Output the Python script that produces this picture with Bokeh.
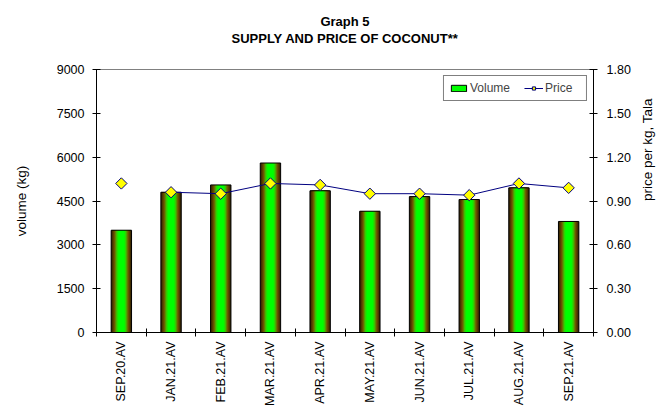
import math
import numpy as np
from bokeh.plotting import figure
from bokeh.models import (Range1d, LinearAxis, FixedTicker, NumeralTickFormatter,
                          Title, Legend, LegendItem)
from bokeh.embed import file_html
from bokeh.resources import INLINE

categories = ["SEP.20.AV", "JAN.21.AV", "FEB.21.AV", "MAR.21.AV", "APR.21.AV",
              "MAY.21.AV", "JUN.21.AV", "JUL.21.AV", "AUG.21.AV", "SEP.21.AV"]
volume = [3500, 4800, 5050, 5800, 4850, 4150, 4650, 4550, 4950, 3800]
price = [1.02, 0.96, 0.95, 1.02, 1.01, 0.95, 0.95, 0.94, 1.02, 0.99]
left_ticks = [0, 1500, 3000, 4500, 6000, 7500, 9000]
right_ticks = [0.0, 0.3, 0.6, 0.9, 1.2, 1.5, 1.8]

FONT = "Liberation Sans"
n = len(categories)
xc = [float(v) for v in np.arange(n) + 0.5]

p = figure(width=665, height=408, output_backend="svg", toolbar_location=None,
           x_range=Range1d(0, n), y_range=Range1d(0, 9000),
           min_border_left=96, min_border_right=68, min_border_bottom=75,
           min_border_top=69, background_fill_color="white", border_fill_color="white")
p.extra_y_ranges = {"price": Range1d(0, 1.8)}
p.xgrid.visible = False
p.ygrid.visible = False
p.outline_line_color = "#808080"


def mk_title(text, size, standoff, bold=True):
    t = Title(text=text, align="center", text_font=FONT, text_font_size=size,
              text_font_style="bold" if bold else "normal", text_color="black",
              text_line_height=1.0)
    try:
        t.standoff = standoff
    except AttributeError:
        pass
    return t


# titles: first added sits nearest the plot
p.add_layout(mk_title(" ", "13px", 7), "above")
p.add_layout(mk_title("SUPPLY AND PRICE OF COCONUT**", "13px", 0), "above")
p.add_layout(mk_title("Graph 5", "13px", 0), "above")
p.add_layout(mk_title(" ", "8px", 0), "above")

# gradient bars as layered vbars
bw = 0.41
nl = 14
stops_t = [0.0, 0.45, 0.75, 1.0]
stops_c = [(50, 32, 0), (115, 88, 0), (60, 200, 0), (0, 255, 0)]
layers = []
for k in range(nl):
    t = k / (nl - 1)
    col = tuple(int(np.interp(t, stops_t, [c[i] for c in stops_c])) for i in range(3))
    w = bw * (1 - 0.7 * t)
    r = p.vbar(x=xc, top=volume, bottom=0, width=w, fill_color="#%02x%02x%02x" % col,
               line_color=None)
    layers.append(r)
outline = p.vbar(x=xc, top=volume, bottom=0, width=bw, fill_color=None,
                 line_color="black", line_width=1)

# price
pline = p.line(x=xc[1:], y=price[1:], line_color="#000080", line_width=1,
               y_range_name="price")
pmark = p.scatter(x=xc, y=price, marker="square", angle=math.pi / 4, size=8,
                  fill_color="#ffff00", line_color="#000080", line_width=1,
                  y_range_name="price")

# x axis: ticks at category boundaries, labels at category centres
xa = p.xaxis[0]
xa.ticker = FixedTicker(ticks=xc, minor_ticks=list(range(0, n + 1)))
xa.major_label_overrides = {x: c for x, c in zip(xc, categories)}
xa.major_tick_in = 0
xa.major_tick_out = 0
xa.minor_tick_in = 4
xa.minor_tick_out = 4
xa.minor_tick_line_color = "black"
xa.major_label_orientation = math.pi / 2
xa.major_label_standoff = 5
xa.major_label_text_font = FONT
xa.major_label_text_font_size = "12.5px"
xa.major_label_text_color = "black"
xa.axis_line_color = "black"

# left axis
ya = p.yaxis[0]
ya.ticker = FixedTicker(ticks=left_ticks)
ya.major_tick_in = 4
ya.major_tick_out = 4
ya.minor_tick_line_color = None
ya.major_label_standoff = 8
ya.major_label_text_font = FONT
ya.major_label_text_font_size = "12.5px"
ya.major_label_text_color = "black"
ya.axis_line_color = "black"
ya.major_tick_line_color = "black"
ya.axis_label = "volume (kg)"
ya.axis_label_text_font = FONT
ya.axis_label_text_font_size = "13.5px"
ya.axis_label_text_font_style = "normal"
ya.axis_label_text_color = "black"
ya.axis_label_standoff = 25

ra = LinearAxis(y_range_name="price", ticker=FixedTicker(ticks=right_ticks),
                formatter=NumeralTickFormatter(format="0.00"))
ra.major_tick_in = 4
ra.major_tick_out = 4
ra.minor_tick_line_color = None
ra.major_label_standoff = 9
ra.major_label_text_font = FONT
ra.major_label_text_font_size = "12.5px"
ra.major_label_text_color = "black"
ra.axis_line_color = "black"
ra.major_tick_line_color = "black"
ra.axis_label = "price per kg, Tala"
ra.axis_label_text_font = FONT
ra.axis_label_text_font_size = "13.5px"
ra.axis_label_text_font_style = "normal"
ra.axis_label_text_color = "black"
ra.axis_label_standoff = 14
try:
    ra.axis_label_orientation = math.pi / 2
except AttributeError:
    pass
p.add_layout(ra, "right")

legend = Legend(items=[LegendItem(label="Volume", renderers=[layers[-1], outline]),
                       LegendItem(label="Price", renderers=[pline, pmark])],
                location="top_right", orientation="horizontal",
                margin=6, padding=5, spacing=14, label_standoff=2,
                glyph_width=19, glyph_height=8, label_width=36,
                label_text_font=FONT, label_text_font_size="12px",
                border_line_color="black", border_line_width=1,
                background_fill_color="white", background_fill_alpha=1)
p.add_layout(legend)

open("out.html", "w").write(file_html(p, INLINE))
